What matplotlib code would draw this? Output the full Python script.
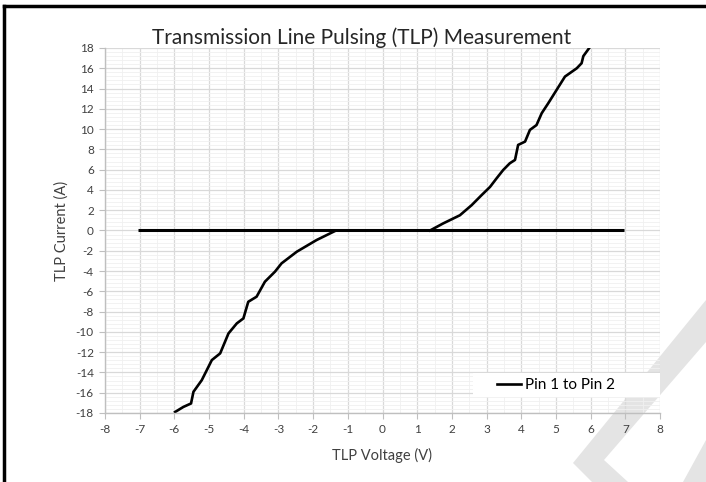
import matplotlib
matplotlib.use('Agg')
import matplotlib.pyplot as plt
from matplotlib.patches import Polygon, Rectangle
from matplotlib.lines import Line2D
from matplotlib.ticker import MultipleLocator

# TLP I-V data
pos_voltage = [1.37, 1.75, 2.23, 2.57, 2.86, 3.10, 3.29, 3.48, 3.67, 3.82, 3.91,
               4.11, 4.25, 4.44, 4.59, 4.78, 5.02, 5.26, 5.60, 5.74, 5.79, 5.96]
pos_current = [0.0, 0.7, 1.5, 2.5, 3.5, 4.3, 5.15, 5.97, 6.63, 6.96, 8.44,
               8.77, 9.92, 10.4, 11.57, 12.56, 13.87, 15.18, 16.0, 16.5, 17.2, 18.0]
neg_voltage = [-1.37, -1.90, -2.47, -2.91, -3.10, -3.39, -3.63, -3.87, -4.01, -4.20,
               -4.44, -4.68, -4.92, -5.21, -5.45, -5.52, -5.74, -5.98]
neg_current = [-0.05, -0.94, -2.09, -3.24, -4.06, -5.05, -6.53, -7.03, -8.67, -9.16,
               -10.15, -12.12, -12.78, -14.76, -15.91, -17.06, -17.4, -17.9]
zero_voltage = [-7.05, 6.96]
zero_current = [0.0, 0.0]

x_ticks = list(range(-8, 9))
y_ticks = list(range(-18, 19, 2))

W, H = 706, 482
plt.rcParams['font.family'] = ['Lato', 'DejaVu Sans']
plt.rcParams['axes.unicode_minus'] = False

fig = plt.figure(figsize=(W / 100, H / 100), dpi=100)
fig.patch.set_facecolor('white')


def px(x, y):
    return (x / W, 1 - y / H)


# faint watermark in the lower right corner
wm_color = '#e4e4e4'
band = [px(706, 300), px(573, 463), px(592, 482), px(628, 482), px(604, 460), px(706, 342)]
band2 = [px(706, 440), px(706, 482), px(683, 482)]
for pts in (band, band2):
    fig.patches.append(Polygon(pts, closed=True, transform=fig.transFigure,
                               facecolor=wm_color, edgecolor='none', zorder=0))

ax_l, ax_b, ax_w, ax_h = 105, 413, 555, 365
ax = fig.add_axes([ax_l / W, 1 - ax_b / H, ax_w / W, ax_h / H])
ax.set_facecolor('none')
ax.set_zorder(2)

ax.plot(zero_voltage, zero_current, color='black', lw=2.2, solid_capstyle='butt')
ax.plot(neg_voltage, neg_current, color='black', lw=1.9)
ax.plot(pos_voltage, pos_current, color='black', lw=1.9, label='Pin 1 to Pin 2')

ax.set_xlim(-8, 8)
ax.set_ylim(-18, 18)
ax.set_xticks(x_ticks)
ax.set_yticks(y_ticks)
ax.xaxis.set_minor_locator(MultipleLocator(0.5))
ax.yaxis.set_minor_locator(MultipleLocator(0.4))
ax.grid(which='major', color='#d9d9d9', lw=0.9)
ax.grid(which='minor', color='#f0f0f0', lw=0.6)
ax.set_axisbelow(True)

for s in ['top', 'right']:
    ax.spines[s].set_visible(False)
for s in ['left', 'bottom']:
    ax.spines[s].set_color('#bfbfbf')
    ax.spines[s].set_linewidth(1.0)

ax.tick_params(which='major', length=4, color='#bfbfbf', labelsize=8.5,
               labelcolor='#404040', pad=4)
ax.tick_params(which='minor', length=0)

ax.set_xlabel('TLP Voltage (V)', fontsize=10.5, color='#404040', labelpad=9)
ax.set_ylabel('TLP Current (A)', fontsize=10.5, color='#404040', labelpad=5)

# white legend box like the Excel chart
def axfrac(x, y):
    return ((x - ax_l) / ax_w, (ax_b - y) / ax_h)

bx0, by0 = axfrac(473, 397)
bx1, by1 = axfrac(660, 373)
ax.add_patch(Rectangle((bx0, by0), bx1 - bx0, by1 - by0, transform=ax.transAxes,
                       facecolor='white', edgecolor='none', zorder=3))
lx, ly = axfrac(556, 385)
leg = ax.legend(loc='center', bbox_to_anchor=(lx, ly), frameon=False,
                fontsize=11, handlelength=1.6, handletextpad=0.25, borderpad=0.2)
leg.set_zorder(4)

fig.text(362 / W, 1 - 44 / H, 'Transmission Line Pulsing (TLP) Measurement',
         ha='center', va='baseline', fontsize=15, color='#262626')

# chart border (only left and top edges are inside the crop)
fig.lines.append(Line2D([4 / W, 4 / W], [0, 1 - 6 / H], transform=fig.transFigure,
                        color='black', lw=2.5))
fig.lines.append(Line2D([4 / W, 1], [1 - 6 / H, 1 - 6 / H], transform=fig.transFigure,
                        color='black', lw=2.5))

fig.savefig('out.png', dpi=100)
